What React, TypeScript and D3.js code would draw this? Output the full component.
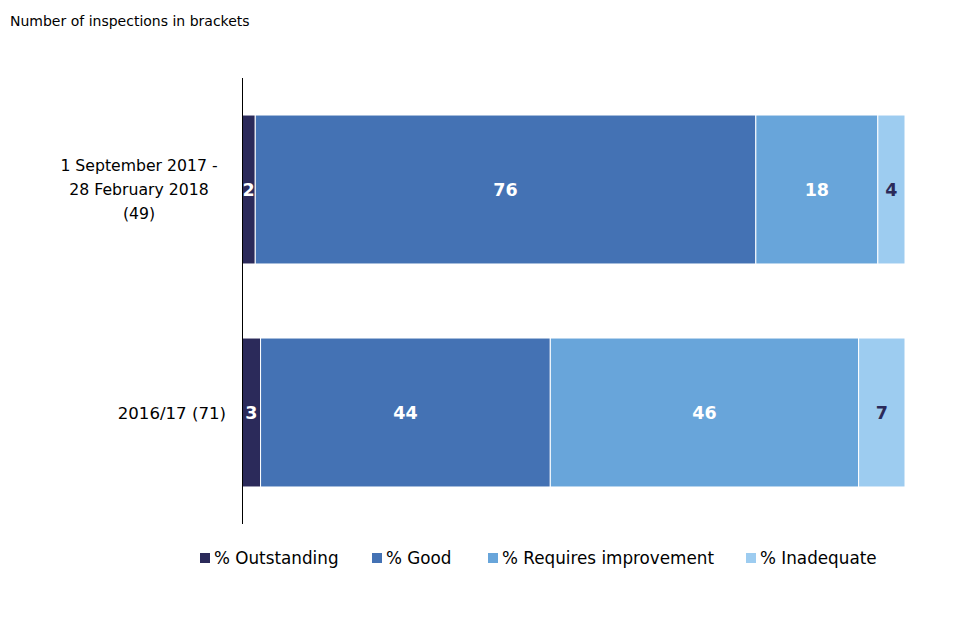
import React from 'react';
import * as d3 from 'd3';

// periods, top to bottom
const periods = ['1 September 2017 - 28 February 2018 (49)', '2016/17 (71)'];
const periodLines = [['1 September 2017 -', '28 February 2018', '(49)'], ['2016/17 (71)']];

const series = ['% Outstanding', '% Good', '% Requires improvement', '% Inadequate'];
// share of inspections per period
const outstanding = [2.0, 2.8];
const good = [75.5, 43.7];
const requiresImprovement = [18.4, 46.5];
const inadequate = [4.1, 7.0];
// the rounded figures printed on the bars
const outstandingLabels = ['2', '3'];
const goodLabels = ['76', '44'];
const requiresLabels = ['18', '46'];
const inadequateLabels = ['4', '7'];

const colors = ['#2b2a5a', '#4472b4', '#68a5da', '#9dccf0'];
const labelColors = ['#ffffff', '#ffffff', '#ffffff', '#2b2a5a'];
const font = "Tahoma, 'DejaVu Sans', sans-serif";

const App: React.FC = () => {
  const width = 960;
  const height = 640;

  const rows = periods.map((p, i) => ({
    period: p,
    values: [outstanding[i], good[i], requiresImprovement[i], inadequate[i]],
    labels: [outstandingLabels[i], goodLabels[i], requiresLabels[i], inadequateLabels[i]],
  }));

  const x = d3.scaleLinear().domain([0, 100]).range([242, 905]);
  const y = d3
    .scaleBand<string>()
    .domain(periods)
    .range([78, 524])
    .paddingInner(0.332)
    .paddingOuter(0.166);

  const stacked = rows.map(r => {
    let acc = 0;
    return r.values.map((v, k) => {
      const seg = { x0: acc, x1: acc + v, label: r.labels[k], k };
      acc += v;
      return seg;
    });
  });

  const legendX = [200, 372, 488, 746];

  return (
    <svg width={width} height={height} style={{ position: 'absolute', left: 0, top: 0 }}>
      <rect width={width} height={height} fill="#ffffff" />
      <text x={10} y={26} fontFamily={font} fontSize={14} fill="#000">
        Number of inspections in brackets
      </text>

      {rows.map((r, i) => {
        const y0 = y(r.period)!;
        const cy = y0 + y.bandwidth() / 2;
        return (
          <g key={r.period}>
            {stacked[i].map(s => (
              <rect
                key={s.k}
                x={x(s.x0)}
                y={y0}
                width={x(s.x1) - x(s.x0)}
                height={y.bandwidth()}
                fill={colors[s.k]}
                stroke="#ffffff"
                strokeWidth={1}
              />
            ))}
            {stacked[i].map(s => (
              <text
                key={'l' + s.k}
                x={(x(s.x0) + x(s.x1)) / 2}
                y={cy}
                dy="0.36em"
                textAnchor="middle"
                fontFamily={font}
                fontWeight="bold"
                fontSize={17.5}
                fill={labelColors[s.k]}
              >
                {s.label}
              </text>
            ))}
            {periodLines[i].map((line, j) => {
              const n = periodLines[i].length;
              const multi = n > 1;
              return (
                <text
                  key={'c' + j}
                  x={multi ? 139 : 226}
                  y={cy + (j - (n - 1) / 2) * 24 + (multi ? 0 : 1)}
                  dy="0.36em"
                  textAnchor={multi ? 'middle' : 'end'}
                  fontFamily={font}
                  fontSize={multi ? 15.7 : 16.6}
                  fill="#000"
                >
                  {line}
                </text>
              );
            })}
          </g>
        );
      })}

      <line
        x1={x(0) + 0.5}
        x2={x(0) + 0.5}
        y1={y.range()[0]}
        y2={y.range()[1]}
        stroke="#000"
        strokeWidth={1}
      />

      {series.map((s, k) => (
        <g key={s} transform={`translate(${legendX[k]},558)`}>
          <rect x={0} y={-5} width={10} height={10} fill={colors[k]} />
          <text x={14} y={0} dy="0.36em" fontFamily={font} fontSize={16.8} fill="#000">
            {s}
          </text>
        </g>
      ))}
    </svg>
  );
};

export default App;
